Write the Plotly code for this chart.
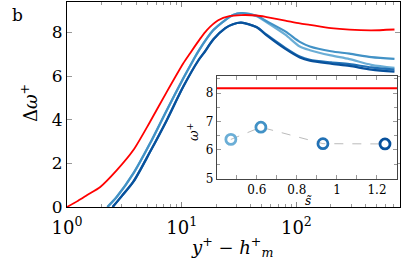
import plotly.graph_objects as go

# ---- data ----
red_x = [1, 1.25, 1.5, 1.95, 2.72, 3.79, 5.3, 7.41, 10.3, 11.8, 14.5, 16.5, 20.8, 26, 33, 45, 55, 80, 107, 131, 200, 290, 450, 716]
red_y = [0, 0.29, 0.55, 0.92, 1.69, 2.61, 3.91, 5.28, 6.58, 7.04, 7.72, 8.1, 8.56, 8.75, 8.8, 8.78, 8.71, 8.55, 8.42, 8.35, 8.2, 8.13, 8.1, 8.14]

rise_x = [2.25, 2.72, 3.79, 5.3, 7.41, 10.3, 12.6, 14.0, 18.8, 23.8, 28, 33]
rise_y = [0, 0.47, 1.54, 2.92, 4.44, 5.89, 6.73, 7.15, 8.1, 8.56, 8.8, 8.89]

light_x = rise_x + [45, 55, 80, 107, 131, 200, 290, 450, 716]
light_y = rise_y + [8.75, 8.47, 7.9, 7.36, 7.19, 6.95, 6.78, 6.52, 6.38]
med_x = rise_x + [45, 55, 80, 107, 131, 200, 290, 450, 716]
med_y = rise_y + [8.77, 8.52, 8.05, 7.57, 7.36, 7.14, 7.03, 6.87, 6.79]

dark_rise_x = [2.5, 3.0, 3.79, 5.3, 7.41, 10.3, 14.0, 15.5, 19, 24, 28, 33]
dark_rise_y = [0, 0.5, 1.16, 2.53, 3.98, 5.51, 6.73, 7.04, 7.7, 8.2, 8.38, 8.45]
dark1_x = dark_rise_x + [45, 55, 80, 107, 131, 200, 290, 450, 716]
dark1_y = dark_rise_y + [8.25, 7.9, 7.3, 6.9, 6.75, 6.63, 6.55, 6.4, 6.3]
dark2_x = dark_rise_x + [45, 55, 80, 107, 131, 200, 290, 450, 716]
dark2_y = dark_rise_y + [8.24, 7.87, 7.25, 6.86, 6.71, 6.57, 6.47, 6.3, 6.21]

s_tilde = [0.47, 0.62, 0.93, 1.24]
omega_plus = [6.37, 6.8, 6.22, 6.21]
omega_smooth = 8.17

colors = ["#6baed6", "#4292c6", "#2171b5", "#08519c"]
red = "#ff0000"

FONT = "DejaVu Serif"

fig = go.Figure()

curves = [(light_x, light_y, colors[0]), (med_x, med_y, colors[1]),
          (dark1_x, dark1_y, colors[2]), (dark2_x, dark2_y, colors[3])]
for xs, ys, c in curves:
    fig.add_trace(go.Scatter(x=xs, y=ys, mode="lines", line=dict(color=c, width=2.2, shape="spline", smoothing=0.8),
                             showlegend=False, xaxis="x", yaxis="y"))
fig.add_trace(go.Scatter(x=red_x, y=red_y, mode="lines", line=dict(color=red, width=1.8, shape="spline", smoothing=0.7),
                         showlegend=False, xaxis="x", yaxis="y"))

# inset
fig.add_trace(go.Scatter(x=[0.4, 1.3], y=[omega_smooth, omega_smooth], mode="lines",
                         line=dict(color=red, width=2), showlegend=False, xaxis="x2", yaxis="y2"))
fig.add_trace(go.Scatter(x=s_tilde, y=omega_plus, mode="lines",
                         line=dict(color="#bbbbbb", width=1, dash="dash"), showlegend=False, xaxis="x2", yaxis="y2"))
fig.add_trace(go.Scatter(x=s_tilde, y=omega_plus, mode="markers",
                         marker=dict(symbol="circle-open", size=10, color=colors, line=dict(width=2.8, color=colors)),
                         showlegend=False, xaxis="x2", yaxis="y2"))

minor_log = [v * m for m in (1, 10, 100) for v in range(2, 10) if v * m <= 800]

fig.update_layout(
    width=406, height=259,
    margin=dict(l=67, r=6, t=2, b=52, autoexpand=False),
    paper_bgcolor="white", plot_bgcolor="white",
    font=dict(family=FONT, color="black"),
    xaxis=dict(type="log", range=[0, 2.903], tickvals=[1, 10, 100],
               ticktext=["10<sup>0</sup>", "10<sup>1</sup>", "10<sup>2</sup>"],
               tickfont=dict(size=18), ticks="inside", ticklen=5, tickcolor="#888",
               ticklabelstandoff=4,
               showline=True, linecolor="black", linewidth=1, mirror="allticks",
               showgrid=False, zeroline=False, automargin=False,
               minor=dict(tickvals=minor_log, ticks="inside", ticklen=3, tickcolor="#999", showgrid=False)),
    yaxis=dict(range=[0, 9.4], tickvals=[0, 2, 4, 6, 8], tickfont=dict(size=17),
               ticks="inside", ticklen=5, tickcolor="#999",
               showline=True, linecolor="black", linewidth=1, mirror="allticks",
               showgrid=False, zeroline=False, automargin=False),
    xaxis2=dict(domain=[0.45, 0.991], anchor="y2", range=[0.4, 1.3],
                tickvals=[0.6, 0.8, 1.0, 1.2], ticktext=["0.6", "0.8", "1", "1.2"],
                tickfont=dict(size=12), ticks="inside", ticklen=4, tickcolor="#999",
                showline=True, linecolor="#444", linewidth=1, mirror="allticks",
                showgrid=False, zeroline=False, automargin=False,
                minor=dict(dtick=0.1, ticks="inside", ticklen=4, tickcolor="#999")),
    yaxis2=dict(domain=[0.137, 0.639], anchor="x2", range=[4.98, 8.6],
                tickvals=[5, 6, 7, 8], tickfont=dict(size=12),
                ticks="inside", ticklen=4, tickcolor="#999",
                showline=True, linecolor="#444", linewidth=1, mirror="allticks",
                showgrid=False, zeroline=False, automargin=False,
                minor=dict(dtick=0.5, ticks="inside", ticklen=3, tickcolor="#999")),
    annotations=[
        dict(text="b", xref="paper", yref="paper", x=-0.15, y=0.937, showarrow=False,
             font=dict(size=17), xanchor="center", yanchor="middle"),
        dict(text="Δ<i>ω</i><sup>+</sup>", xref="paper", yref="paper", x=-0.114, y=0.507, showarrow=False,
             textangle=-90, font=dict(size=18), xanchor="center", yanchor="middle"),
        dict(text="<i>y</i><sup>+</sup> − <i>h</i><sup>+</sup><sub><i>m</i></sub>", xref="paper", yref="paper",
             x=0.496, y=-0.195, showarrow=False, font=dict(size=18), xanchor="center", yanchor="middle"),
        dict(text="<i>ω</i><sup>+</sup>", xref="paper", yref="paper", x=(193 - 67) / 333, y=(207 - 132) / 205,
             showarrow=False, textangle=-90, font=dict(size=13), xanchor="center", yanchor="middle"),
        dict(text="<i>s̃</i>", xref="paper", yref="paper", x=(308 - 67) / 333, y=(207 - 201) / 205,
             showarrow=False, font=dict(size=12), xanchor="center", yanchor="middle"),
    ],
)

fig.write_html("out.html", config={"displayModeBar": False},
               post_script="document.body.style.margin='0';")
